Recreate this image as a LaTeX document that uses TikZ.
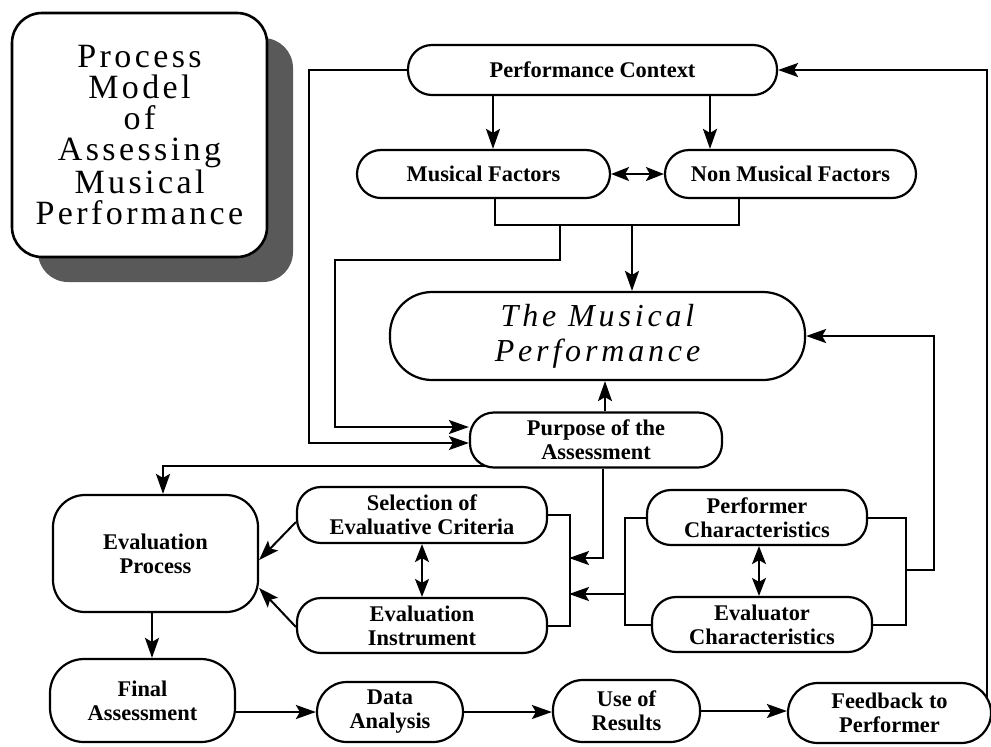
\documentclass[tikz,border=0pt]{standalone}
\usepackage{fontspec}
\setmainfont{Liberation Serif}
\newfontfamily\titlefont[LetterSpace=10]{Liberation Serif}
\newfontfamily\perffont[LetterSpace=12]{Liberation Serif}
\usetikzlibrary{arrows.meta,calc,shadows}

\begin{document}
\begin{tikzpicture}[x=0.5pt,y=-0.5pt,
flowbox/.style={draw, line width=1.1pt, fill=white, align=center, inner sep=0pt,
  font=\bfseries\fontsize{11.2}{12}\selectfont},
pill/.style={flowbox, minimum width=#1, minimum height=27.5pt, rounded corners=12pt},
link/.style={line width=1pt, -{Stealth[length=10pt,width=7pt,inset=2pt]}},
biarrow/.style={line width=1pt,
  {Stealth[length=9pt,width=7pt,inset=2pt]}-{Stealth[length=9pt,width=7pt,inset=2pt]}},
bar/.style={line width=1pt}]
    \useasboundingbox (0,0) rectangle (991,746);
    % title
    \node [flowbox, line width=1.3pt, font=\titlefont\fontsize{17}{15.4}\selectfont,
      minimum width=127.5pt, minimum height=122pt, rounded corners=15pt,
      drop shadow={shadow xshift=13pt,shadow yshift=-12.5pt,fill=black!65,opacity=1}]
      (title) at (139.5,135) {Process\\Model\\of\\Assessing\\Musical\\Performance};
    % top part
    \node [pill=184.5pt, minimum height=25pt] (pc) at (592.5,70) {Performance Context};
    \node [pill=126.5pt, minimum height=24pt] (mf) at (483.5,174) {Musical Factors};
    \node [pill=125.5pt, minimum height=24pt] (nmf) at (790.5,174) {Non Musical Factors};
    \node [flowbox, font=\perffont\itshape\fontsize{16}{17.5}\selectfont,
      minimum width=207.5pt, minimum height=44pt, rounded corners=21pt]
      (tmp) at (597.5,336) {The Musical\\Performance};
    \node [pill=126pt] (pur) at (596,440) {Purpose of the\\Assessment};
    % middle part
    \node [flowbox, minimum width=102.5pt, minimum height=58.5pt, rounded corners=16pt]
      (ep) at (155.5,553.5) {Evaluation\\Process};
    \node [pill=125pt, minimum height=28pt] (sec) at (422,515) {Selection of\\Evaluative Criteria};
    \node [pill=125pt] (ei) at (422,625.5) {Evaluation\\Instrument};
    \node [pill=110pt] (perf) at (757,517.5) {Performer\\Characteristics};
    \node [pill=110pt] (eval) at (762,624.5) {Evaluator\\Characteristics};
    % bottom row
    \node [flowbox, minimum width=92.5pt, minimum height=41.5pt, rounded corners=17pt]
      (fa) at (142.5,700.5) {Final\\Assessment};
    \node [pill=73pt, minimum height=30pt, rounded corners=15pt] (da) at (390,712) {Data\\Analysis};
    \node [pill=73.5pt, minimum height=31pt, rounded corners=15pt] (ur) at (626.5,711) {Use of\\Results};
    \node [pill=101.5pt, minimum height=30pt, rounded corners=15pt] (fb) at (889.5,713) {Feedback to\\Performer};

    % channels
    \coordinate (xa) at (493,0);
    \coordinate (xb) at (710,0);
    \coordinate (jn) at (632,225);
    \coordinate (xf) at (335,260);
    \coordinate (xg) at (309,0);
    \coordinate (xh) at (605,0);
    \coordinate (xi) at (603,0);
    \coordinate (xpe) at (759,0);
    \coordinate (lo) at ([yshift=-1.5pt]pur.west);
    \coordinate (pe) at ($(pur.south west)+(16,-3)$);
    \coordinate (bl1) at (569,558);
    \coordinate (bl2) at (569,594);
    \coordinate (br1) at (626,594);
    \coordinate (br2) at (905,570);
    \coordinate (fbt) at ($(fb.east)+(-5,-15)$);

    % connectors
    \draw [link] (pc.south -| xa) -- (mf.north -| xa);
    \draw [link] (pc.south -| xb) -- (nmf.north -| xb);
    \draw [biarrow] (mf) -- (nmf);
    \draw [bar] ($(mf.south)+(11.5,0)$) |- (jn) -| ($(nmf.south)+(-51.5,0)$);
    \draw [link] (jn) -- (tmp.north -| jn);
    \draw [link] ($(jn)+(-72,0)$) |- (xf) |- ([yshift=6.5pt]pur.west);
    \draw [link] (pc.west) -| (xg |- lo) -- (lo);
    \draw [link] (pur.north -| xh) -- (tmp.south -| xh);
    \draw [link] (pe) -| ($(ep.north)+(7.5,0)$);
    \draw [link] ($(sec.west)+(0,7)$) -- ($(ep.east)+(0,6.5)$);
    \draw [link] ($(ei.west)+(0,1.5)$) -- ($(ep.east)+(0,34.5)$);
    \draw [biarrow] (sec.south) -- (ei.north);
    \draw [bar] (sec.east) -| ($(ei.east)+(22,0)$) -- (ei.east);
    \draw [link] (pur.south -| xi) |- (bl1);
    \draw [biarrow] (perf.south -| xpe) -- (eval.north -| xpe);
    \draw [bar] (perf.west) -| ($(eval.west)+(-26,0)$) -- (eval.west);
    \draw [link] (br1) -- (bl2);
    \draw [bar] (perf.east) -| ($(eval.east)+(33,0)$) -- (eval.east);
    \draw [link] (br2) -| ($(tmp.east)+(128,0)$) -- (tmp.east);
    \draw [link] ($(ep.south)+(-3.5,0)$) -- ($(fa.north)+(9.5,0)$);
    \draw [link] (fa.east |- da) -- (da.west);
    \draw [link] (da.east) -- (da.east -| ur.west);
    \draw [link] (ur.east) -- (ur.east -| fb.west);
    \draw [link] (fbt) |- (pc.east);
\end{tikzpicture}
\end{document}
